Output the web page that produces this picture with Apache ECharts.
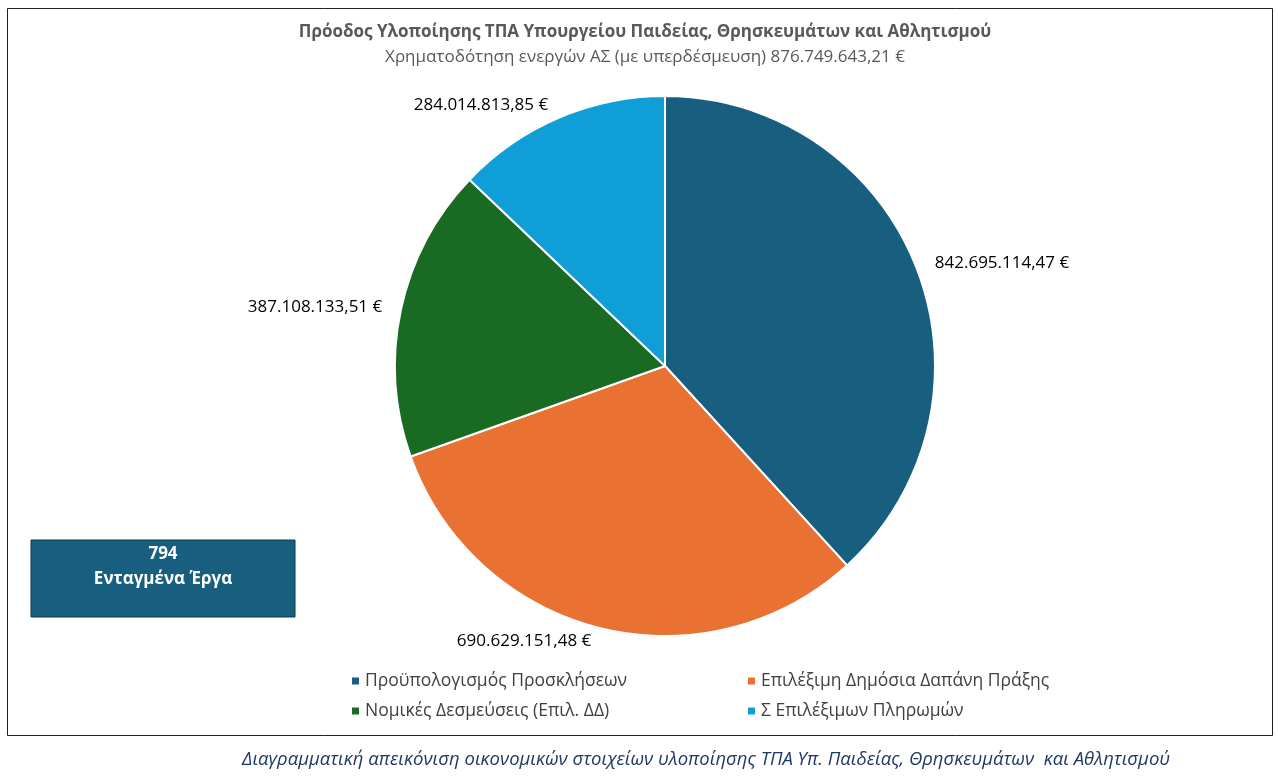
<!DOCTYPE html>
<html><head><meta charset="utf-8">
<script src="https://cdn.jsdelivr.net/npm/echarts@6/dist/echarts.min.js"></script>
<style>html,body{margin:0;padding:0;background:#fff}#c{width:1279px;height:778px}</style>
</head><body><div id="c"></div>
<script>
const categories = ['Προϋπολογισμός Προσκλήσεων','Επιλέξιμη Δημόσια Δαπάνη Πράξης','Νομικές Δεσμεύσεις (Επιλ. ΔΔ)','Σ Επιλέξιμων Πληρωμών'];
const values = [842695114.47, 690629151.48, 387108133.51, 284014813.85];
const colors = ['#175E7F','#E97132','#196B24','#0F9ED5'];
const fmt = v => v.toFixed(2).replace('.', ',').replace(/\B(?=(\d{3})+(?!\d))/g, '.') + ' €';
const font = 'Open Sans';
const chart = echarts.init(document.getElementById('c'));
chart.setOption({
  textStyle:{fontFamily:font},
  title:{text:'Πρόοδος Υλοποίησης ΤΠΑ Υπουργείου Παιδείας, Θρησκευμάτων και Αθλητισμού',
    subtext:'Χρηματοδότηση ενεργών ΑΣ (με υπερδέσμευση) 876.749.643,21 €',
    left:640, textAlign:'center', top:19, itemGap:8,
    textStyle:{fontSize:17,fontWeight:'bold',color:'#595959',fontFamily:font},
    subtextStyle:{fontSize:17,color:'#595959',fontFamily:font}},
  graphic:[
    {type:'rect',shape:{x:7.5,y:8.5,width:1265,height:727},style:{fill:'none',stroke:'#222',lineWidth:1}},
    {type:'rect',shape:{x:31,y:540,width:264,height:77},style:{fill:'#175E7F',stroke:'#0d3a50',lineWidth:1}},
    {type:'text',x:163,y:554,style:{text:'794',fill:'#fff',font:'bold 17px "Open Sans"',align:'center',verticalAlign:'middle'}},
    {type:'text',x:163,y:579,style:{text:'Ενταγμένα Έργα',fill:'#fff',font:'bold 17px "Open Sans"',align:'center',verticalAlign:'middle'}},
    {type:'text',x:706,y:760,style:{text:'Διαγραμματική απεικόνιση οικονομικών στοιχείων υλοποίησης ΤΠΑ Υπ. Παιδείας, Θρησκευμάτων  και Αθλητισμού',fill:'#1F3864',font:'italic 18.5px "Open Sans"',align:'center',verticalAlign:'middle'}}
  ],
  legend:[
    {data:[categories[0],categories[2]],orient:'vertical',left:345,top:667,itemGap:12,icon:'rect',itemWidth:9,itemHeight:9,textStyle:{fontSize:17.5,color:'#404040',fontFamily:font}},
    {data:[categories[1],categories[3]],orient:'vertical',left:741,top:667,itemGap:12,icon:'rect',itemWidth:9,itemHeight:9,textStyle:{fontSize:17.5,color:'#404040',fontFamily:font}}
  ],
  series:[{type:'pie',center:[665,366],radius:[0,270],startAngle:90,clockwise:true,
    color:colors,
    itemStyle:{borderColor:'#fff',borderWidth:2},
    label:{show:true,position:'outside',formatter:p=>fmt(p.value),fontSize:17,color:'#000',fontFamily:font},
    labelLine:{show:false,length:14,length2:0},
    data:categories.map((n,i)=>({name:n,value:values[i]}))}]
});
</script></body></html>
